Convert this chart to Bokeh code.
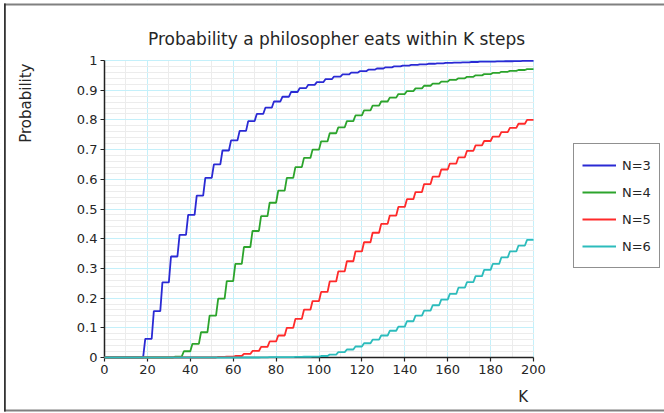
from bokeh.plotting import figure
from bokeh.models import (Range1d, FixedTicker, Legend, LegendItem, Label,
                          BoxAnnotation, ColumnDataSource)
from bokeh.embed import file_html
from bokeh.resources import INLINE

# ---------------- data ----------------
title_text = "Probability a philosopher eats within K steps"
x_label = "K"
y_label = "Probability"

x_ticks = [0, 20, 40, 60, 80, 100, 120, 140, 160, 180, 200]
x_minor = [10, 30, 50, 70, 90, 110, 130, 150, 170, 190]
y_ticks = [0, 0.1, 0.2, 0.3, 0.4, 0.5, 0.6, 0.7, 0.8, 0.9, 1]
y_tick_labels = ["0", "0.1", "0.2", "0.3", "0.4", "0.5", "0.6", "0.7", "0.8", "0.9", "1"]
y_minor = [0.02, 0.04, 0.06, 0.08, 0.12, 0.14, 0.16, 0.18, 0.22, 0.24, 0.26, 0.28,
           0.32, 0.34, 0.36, 0.38, 0.42, 0.44, 0.46, 0.48, 0.52, 0.54, 0.56, 0.58,
           0.62, 0.64, 0.66, 0.68, 0.72, 0.74, 0.76, 0.78, 0.82, 0.84, 0.86, 0.88,
           0.92, 0.94, 0.96, 0.98]

series_names = ["N=3", "N=4", "N=5", "N=6"]

# K at which each plateau begins (probability is updated every 4 steps)
k_n3 = list(range(19, 200, 4))
p_n3 = [0.063, 0.156, 0.253, 0.340, 0.413, 0.480, 0.545, 0.605, 0.650, 0.697,
        0.731, 0.763, 0.796, 0.820, 0.841, 0.862, 0.878, 0.894, 0.907, 0.918,
        0.927, 0.937, 0.946, 0.953, 0.959, 0.964, 0.969, 0.973, 0.977, 0.980,
        0.983, 0.985, 0.987, 0.989, 0.990, 0.992, 0.993, 0.994, 0.995, 0.996,
        0.9965, 0.997, 0.9975, 0.998, 0.9985, 0.999]

k_n4 = list(range(33, 200, 4))
p_n4 = [0.003, 0.021, 0.046, 0.085, 0.141, 0.198, 0.257, 0.315, 0.372, 0.426,
        0.476, 0.521, 0.562, 0.605, 0.641, 0.672, 0.700, 0.728, 0.755, 0.775,
        0.796, 0.815, 0.832, 0.848, 0.862, 0.875, 0.887, 0.897, 0.906, 0.915,
        0.922, 0.929, 0.935, 0.940, 0.945, 0.950, 0.954, 0.958, 0.962, 0.965,
        0.968, 0.971]

k_n5 = list(range(53, 200, 4))
p_n5 = [0.002, 0.003, 0.005, 0.012, 0.022, 0.036, 0.054, 0.074, 0.100, 0.130,
        0.161, 0.190, 0.221, 0.256, 0.290, 0.324, 0.357, 0.388, 0.420, 0.450,
        0.478, 0.507, 0.533, 0.557, 0.584, 0.609, 0.633, 0.653, 0.674, 0.696,
        0.714, 0.729, 0.744, 0.759, 0.773, 0.787, 0.800]

k_n6 = list(range(73, 200, 4))
p_n6 = [0.0005, 0.001, 0.001, 0.0015, 0.002, 0.0025, 0.003, 0.005, 0.010, 0.018,
        0.027, 0.037, 0.048, 0.060, 0.074, 0.090, 0.104, 0.122, 0.141, 0.158,
        0.176, 0.195, 0.214, 0.235, 0.254, 0.274, 0.295, 0.315, 0.337, 0.357,
        0.377, 0.396]

colors = ["#2a2ad4", "#2ca42c", "#ff2a2a", "#2cbcbc"]

K_MIN, K_MAX = 0, 200
P_MIN, P_MAX = 0, 1


def step_path(ks, ps):
    xs, ys, prev = [K_MIN], [0.0], 0.0
    for k, v in zip(ks, ps):
        xs += [k - 1, k]
        ys += [prev, v]
        prev = v
    xs.append(K_MAX)
    ys.append(prev)
    return xs, ys


# ---------------- layout constants (pixels) ----------------
W, H = 664, 413
AX_LEFT_PX, AX_RIGHT_PX = 104, 533      # where K=0 and K=200 fall
AX_TOP_PX, AX_BOTTOM_PX = 60, 357       # where P=1 and P=0 fall
PX_PER_K = (AX_RIGHT_PX - AX_LEFT_PX) / (K_MAX - K_MIN)
PX_PER_P = (AX_BOTTOM_PX - AX_TOP_PX) / (P_MAX - P_MIN)


def kx(px):
    return K_MIN + (px - AX_LEFT_PX) / PX_PER_K


def py(px):
    return P_MIN + (AX_BOTTOM_PX - px) / PX_PER_P


FONT = "DejaVu Sans"
TXT = "#262626"

# the frame spans the whole canvas; axes sit at K=0 / P=0 inside it
p = figure(width=W, height=H, output_backend="svg", toolbar_location=None,
           x_range=Range1d(kx(0), kx(W)), y_range=Range1d(py(H), py(0)),
           min_border=0)
p.outline_line_color = None
p.background_fill_color = "white"
p.border_fill_color = "white"

p.xaxis.ticker = FixedTicker(ticks=x_ticks, minor_ticks=x_minor)
p.yaxis.ticker = FixedTicker(ticks=y_ticks, minor_ticks=y_minor)
p.yaxis.major_label_overrides = {t: s for t, s in zip(y_ticks, y_tick_labels)}
p.xaxis.bounds = (K_MIN, K_MAX)
p.yaxis.bounds = (P_MIN, P_MAX)
p.xaxis.fixed_location = P_MIN
p.yaxis.fixed_location = K_MIN
for ax in (p.xaxis, p.yaxis):
    ax.axis_line_color = "#222222"
    ax.axis_line_width = 1.5
    ax.major_tick_line_color = "#222222"
    ax.major_tick_line_width = 1.2
    ax.major_tick_out = 4
    ax.major_tick_in = 0
    ax.minor_tick_line_color = None
    ax.major_label_text_font = FONT
    ax.major_label_text_font_size = "13px"
    ax.major_label_text_color = TXT
p.xaxis.major_label_standoff = 3
p.yaxis.major_label_standoff = 3

for g in (p.xgrid, p.ygrid):
    g.grid_line_color = "#c4f0fa"
    g.grid_line_width = 1
    g.minor_grid_line_color = "#ececec"
    g.minor_grid_line_width = 1

# blank out grid lines outside the data area
dk, dp = 0.6 / PX_PER_K, 0.6 / PX_PER_P
for kw in (dict(right=K_MIN - dk), dict(left=K_MAX + dk),
           dict(bottom=P_MAX + dp), dict(top=P_MIN - dp)):
    p.add_layout(BoxAnnotation(fill_color="white", fill_alpha=1, line_color=None,
                               level="underlay", **kw))

renderers = []
for (ks, ps), c in zip([(k_n3, p_n3), (k_n4, p_n4), (k_n5, p_n5), (k_n6, p_n6)], colors):
    xs, ys = step_path(ks, ps)
    src = ColumnDataSource(data=dict(k=xs, prob=ys))
    # drawn above the axis line so the zero-probability stretches stay visible
    r = p.line("k", "prob", source=src, line_color=c, line_width=1.8, level="annotation")
    renderers.append(r)

# titles
p.add_layout(Label(x=kx(336), y=py(38), text=title_text, text_align="center",
                   text_baseline="alphabetic", text_font=FONT, text_font_size="17px",
                   text_color=TXT))
p.add_layout(Label(x=kx(25), y=py(63), text=y_label, angle=1.5708, text_align="right",
                   text_baseline="middle", text_font=FONT, text_font_size="15px",
                   text_color=TXT))
p.add_layout(Label(x=kx(527.5), y=py(396.5), text=x_label, text_align="right",
                   text_baseline="alphabetic", text_font=FONT, text_font_size="15px",
                   text_color=TXT))

legend = Legend(items=[LegendItem(label=n, renderers=[r]) for n, r in zip(series_names, renderers)],
                location=(573, H - 268))
legend.padding = 8
legend.spacing = 1
legend.margin = 0
legend.label_height = 26
legend.glyph_height = 26
legend.glyph_width = 34
legend.label_standoff = 6
legend.label_text_font = FONT
legend.label_text_font_size = "13px"
legend.label_text_color = TXT
legend.border_line_color = "#222222"
legend.border_line_width = 1.5
legend.background_fill_color = "white"
legend.background_fill_alpha = 1
p.add_layout(legend)

# outer chart border: grey top / bottom, dark left
for (l, r_, t, b, col) in [(3.5, W, 3, 5, "#808080"), (3.5, W, 409, 411, "#808080"),
                           (3.5, 5.3, 3, 411, "#333333")]:
    p.add_layout(BoxAnnotation(left=kx(l), right=kx(r_), top=py(t), bottom=py(b),
                               fill_color=col, fill_alpha=1, line_color=None))

open("out.html", "w").write(file_html(p, INLINE))
